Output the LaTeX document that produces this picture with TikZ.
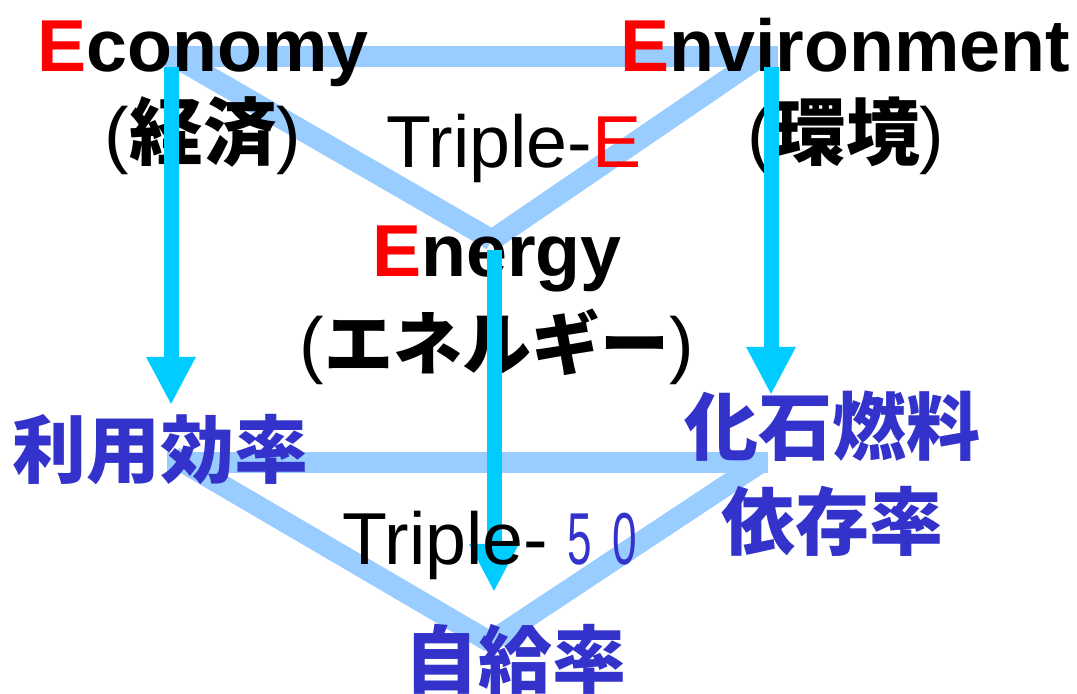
\documentclass[tikz,border=0pt]{standalone}
\usepackage{fontspec}
\setmainfont{Liberation Sans}
\newfontfamily\jpfont{Noto Sans CJK JP}
\usetikzlibrary{arrows.meta}

\definecolor{paleblue}{HTML}{99CCFF}
\definecolor{skyblue}{HTML}{00CCFF}
\definecolor{kanjiblue}{HTML}{3333CC}

\tikzset{
  band/.style={paleblue, line width=10.5pt},
  flow/.style={skyblue, line width=7.5pt,
    -{Triangle[width=23pt,length=24pt]}},
  word/.style={inner sep=0pt, anchor=base,
    font=\fontsize{36.8}{40}\selectfont},
  bold word/.style={word, font=\fontsize{36.8}{40}\selectfont\bfseries},
  kanji/.style={word, text=kanjiblue, font=\fontsize{37}{40}\selectfont\jpfont\bfseries}
}

\begin{document}
\begin{tikzpicture}[x=0.5pt, y=-0.5pt]
  \useasboundingbox (0,0) rectangle (1077,694);

  % corners of the two triangles
  \coordinate (econ)   at (165,57);
  \coordinate (econ d) at (175,57);
  \coordinate (envi)   at (778,57);
  \coordinate (envi d) at (760,57);
  \coordinate (ener)   at (492,240);
  \coordinate (eff)    at (167,463);
  \coordinate (eff d)  at (174,457);
  \coordinate (fos)    at (768,463);
  \coordinate (fos d)  at (760,463);
  \coordinate (self)   at (490,642);

  % ends of the arrows
  \coordinate (econ down) at (171,67);
  \coordinate (envi down) at (771,67);
  \coordinate (ener down) at (494,250);
  \coordinate (eff up)    at (171,405);
  \coordinate (fos up)    at (771,395);
  \coordinate (self up)   at (494,592);

  \draw[band] (econ) -- (envi);
  \draw[band] (econ d) -- (ener);
  \draw[band] (envi d) -- (ener);
  \draw[band] (eff) -- (fos);
  \draw[band] (eff d) -- (self);
  \draw[band] (fos d) -- (self);

  % the three E
  \node[bold word] (economy) at (203,72) {\textcolor{red}{E}conomy};
  \node[word] (keizai) at (203,160) {({\jpfont\bfseries 経済})};
  \node[bold word] (environment) at (845,72) {\textcolor{red}{E}nvironment};
  \node[word] (kankyo) at (846,160) {({\jpfont\bfseries 環境})};
  \node[word] (tripleE) at (514,168) {Triple-\textcolor{red}{E}};
  \node[bold word] (energy) at (497,277) {\textcolor{red}{E}nergy};
  \node[word] (enerugi) at (497,370)
    {({\fontsize{34.5}{40}\selectfont\jpfont\bfseries エネルギー})};

  \draw[flow] (econ down) -- (eff up);
  \draw[flow] (envi down) -- (fos up);
  \draw[flow] (ener down) -- (self up);

  % the three targets
  \node[kanji] (riyou) at (160,478) {利用効率};
  \node[kanji] (kaseki) at (832,455) {化石燃料};
  \node[kanji] (izon) at (832,550) {依存率};
  \node[word, anchor=base west] (triple50) at (342,565)
    {Triple-\hspace{9.5pt}\textcolor{kanjiblue}{\scalebox{0.6}[1]{5}\hspace{10.5pt}\scalebox{0.6}[1]{0}}};
  \node[kanji] (jikyu) at (515,688) {自給率};
\end{tikzpicture}
\end{document}
